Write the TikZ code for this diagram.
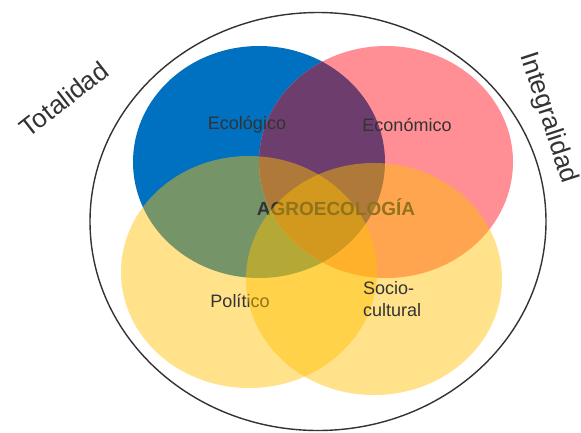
\documentclass[tikz,border=0pt]{standalone}
\usepackage{fontspec}
\setmainfont{Liberation Sans}
\definecolor{cblue}{HTML}{0070C0}
\definecolor{cpink}{HTML}{FF8F94}
\definecolor{cpurple}{HTML}{6D3E6D}
\definecolor{cyel}{HTML}{FFC000}
\definecolor{ctxt}{HTML}{333333}
\begin{document}
\begin{tikzpicture}[x=1pt,y=-1pt,
  lbl/.style={font=\fontsize{18}{22}\selectfont, text=ctxt, inner sep=0pt},
  side/.style={font=\fontsize{26}{30}\selectfont, text=ctxt, inner sep=0pt},
  yel/.style={fill=cyel, fill opacity=0.46}]
\useasboundingbox (0,0) rectangle (581,432);
\fill[white] (0,0) rectangle (581,432);
% outer ellipse
\draw[ctxt, line width=1.4pt] (318,221.5) ellipse [x radius=228, y radius=209];
% blue and pink
\fill[cblue] (259,162) ellipse [x radius=126, y radius=116];
\fill[cpink] (386,162) ellipse [x radius=127, y radius=116];
\begin{scope}
  \clip (259,162) ellipse [x radius=126, y radius=116];
  \fill[cpurple] (386,162) ellipse [x radius=127, y radius=116];
\end{scope}
\node[lbl] (eco) at (247,125) {Ecológico};
\node[lbl] (econ) at (407,125) {Económico};
% left yellow
\fill[yel] (249,272) ellipse [x radius=128, y radius=116];
\node[lbl] (pol) at (240,301) {Político};
\node[lbl, font=\fontsize{19}{22}\selectfont\bfseries] (agro) at (336,207) {AGROECOLOGÍA};
% right yellow
\fill[yel] (374,279) ellipse [x radius=128, y radius=116];
\node[lbl, align=left, anchor=west] (soc) at (363,299) {Socio-\\cultural};
% side labels
\node[side, rotate=38] (tot) at (64,99) {Totalidad};
\node[side, rotate=-72] (int) at (548,118) {Integralidad};
\end{tikzpicture}
\end{document}
